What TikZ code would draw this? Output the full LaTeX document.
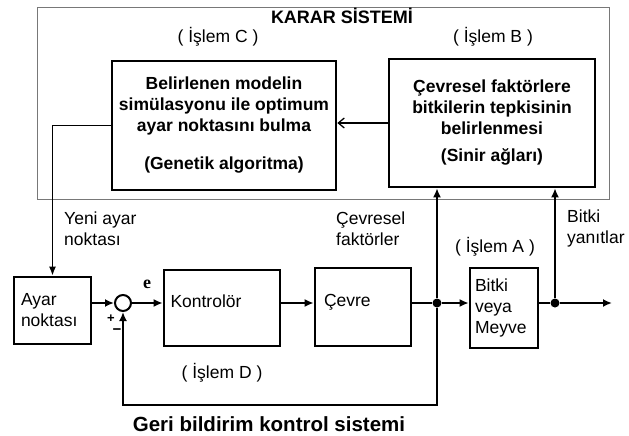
\documentclass[tikz,border=0pt]{standalone}
\usepackage{fontspec}
\setmainfont{Liberation Sans}
\newfontfamily\serifont{Liberation Serif}
\usetikzlibrary{positioning,arrows.meta,calc}
\definecolor{framegray}{RGB}{120,120,120}
\tikzset{
  blk/.style={draw=black, line width=2.6pt, inner sep=0pt, font=\fontsize{17.5}{21}\selectfont},
  bigblk/.style={draw=black, line width=2.6pt, align=center, inner sep=0pt, font=\bfseries\fontsize{17.5}{21}\selectfont},
  lbl/.style={align=left, inner sep=0pt, font=\fontsize{17.5}{21}\selectfont},
  wire/.style={line width=2.2pt},
  arr/.style={wire, -{Latex[length=9pt,width=8pt]}},
  dot/.style={circle, fill=black, inner sep=0pt, minimum size=9pt},
}
\begin{document}
\begin{tikzpicture}[x=1pt,y=-1pt]
  \useasboundingbox (0,0) rectangle (629,436);
  % karar sistemi
  \draw[framegray, line width=0.9pt] (37,7) rectangle (609,199);
  \node[inner sep=0pt, font=\bfseries\fontsize{18}{20}\selectfont] (karar) at (342,16) {KARAR SİSTEMİ};
  \node[lbl] (islemC) at (218,37) {( İşlem C )};
  \node[lbl] (islemB) at (493,37) {( İşlem B )};
  \node[bigblk, minimum width=224pt, minimum height=129pt] (genetik) at (224,125.5)
    {Belirlenen modelin\\simülasyonu ile optimum\\ayar noktasını bulma\\[17pt](Genetik algoritma)};
  \node[bigblk, minimum width=206pt, minimum height=128pt] (sinir) at (492,123)
    {Çevresel faktörlere\\bitkilerin  tepkisinin\\belirlenmesi\\[6pt](Sinir ağları)};
  \draw[line width=1.3pt, -{Straight Barb[length=6pt,width=10pt]}] (sinir.west) -- (sinir.west -| genetik.east);

  % kontrol dongusu
  \node[blk, minimum width=77pt, minimum height=67pt, text width=63pt, align=left] (ayar) at (52.5,310.5) {Ayar\\noktası};
  \node[draw, circle, line width=2pt, minimum size=16pt, inner sep=0pt] (sum) at (123,303) {};
  \node[blk, minimum width=116pt, minimum height=76pt, text width=103pt, align=left, text depth=13pt] (kont) at (222,308) {Kontrolör};
  \node[blk, minimum width=96pt, minimum height=78pt, text width=78pt, align=left, text depth=13pt] (cevre) at (363,307) {Çevre};
  \node[blk, minimum width=68pt, minimum height=80pt, text width=58pt, align=left] (bitki) at (504,308) {Bitki\\veya\\Meyve};
  \node[dot] (j1) at (437,303) {};
  \node[dot] (j2) at (555,303) {};
  \coordinate (out) at (612,303);
  \coordinate (fb) at (437,405);

  \node[lbl] (yeni) [anchor=west] at (64,229) {Yeni ayar\\noktası};
  \node[lbl] (cevfak) [anchor=west] at (336,229) {Çevresel\\faktörler};
  \node[lbl] (yanit) [anchor=west] at (567,228) {Bitki\\yanıtlar};
  \node[lbl] (islemA) at (495,247) {( İşlem A )};
  \node[lbl] (islemD) at (222,373) {( İşlem D )};
  \node[inner sep=0pt, font=\serifont\bfseries\fontsize{18}{20}\selectfont] (e) at (147,284) {e};
  \node[inner sep=0pt, font=\bfseries\fontsize{13}{14}\selectfont] (plus) at (111,319) {+};
  \node[inner sep=0pt, font=\bfseries\fontsize{15}{16}\selectfont] (minus) at (117,332) {−};
  \node[inner sep=0pt, font=\bfseries\fontsize{20.5}{22}\selectfont] (geri) at (269,424) {Geri bildirim kontrol sistemi};

  \draw[line width=1.6pt, -{Latex[length=9pt,width=7pt]}] (genetik.west) -- (ayar.north |- genetik.west) -- (ayar.north);
  \draw[arr] (ayar.east |- sum) -- (sum.west);
  \draw[arr] (sum.east) -- (kont.west |- sum);
  \draw[arr] (kont.east |- sum) -- (cevre.west |- sum);
  \draw[wire] (cevre.east |- sum) -- (j1);
  \draw[arr] (j1) -- (bitki.west |- sum);
  \draw[wire] (bitki.east |- sum) -- (j2);
  \draw[arr] (j2) -- (out);
  \draw[arr] (j1) -- (j1 |- sinir.south);
  \draw[arr] (j2) -- (j2 |- sinir.south);
  \draw[arr] (j1) -- (fb) -- (fb -| sum) -- (sum.south);
\end{tikzpicture}
\end{document}
